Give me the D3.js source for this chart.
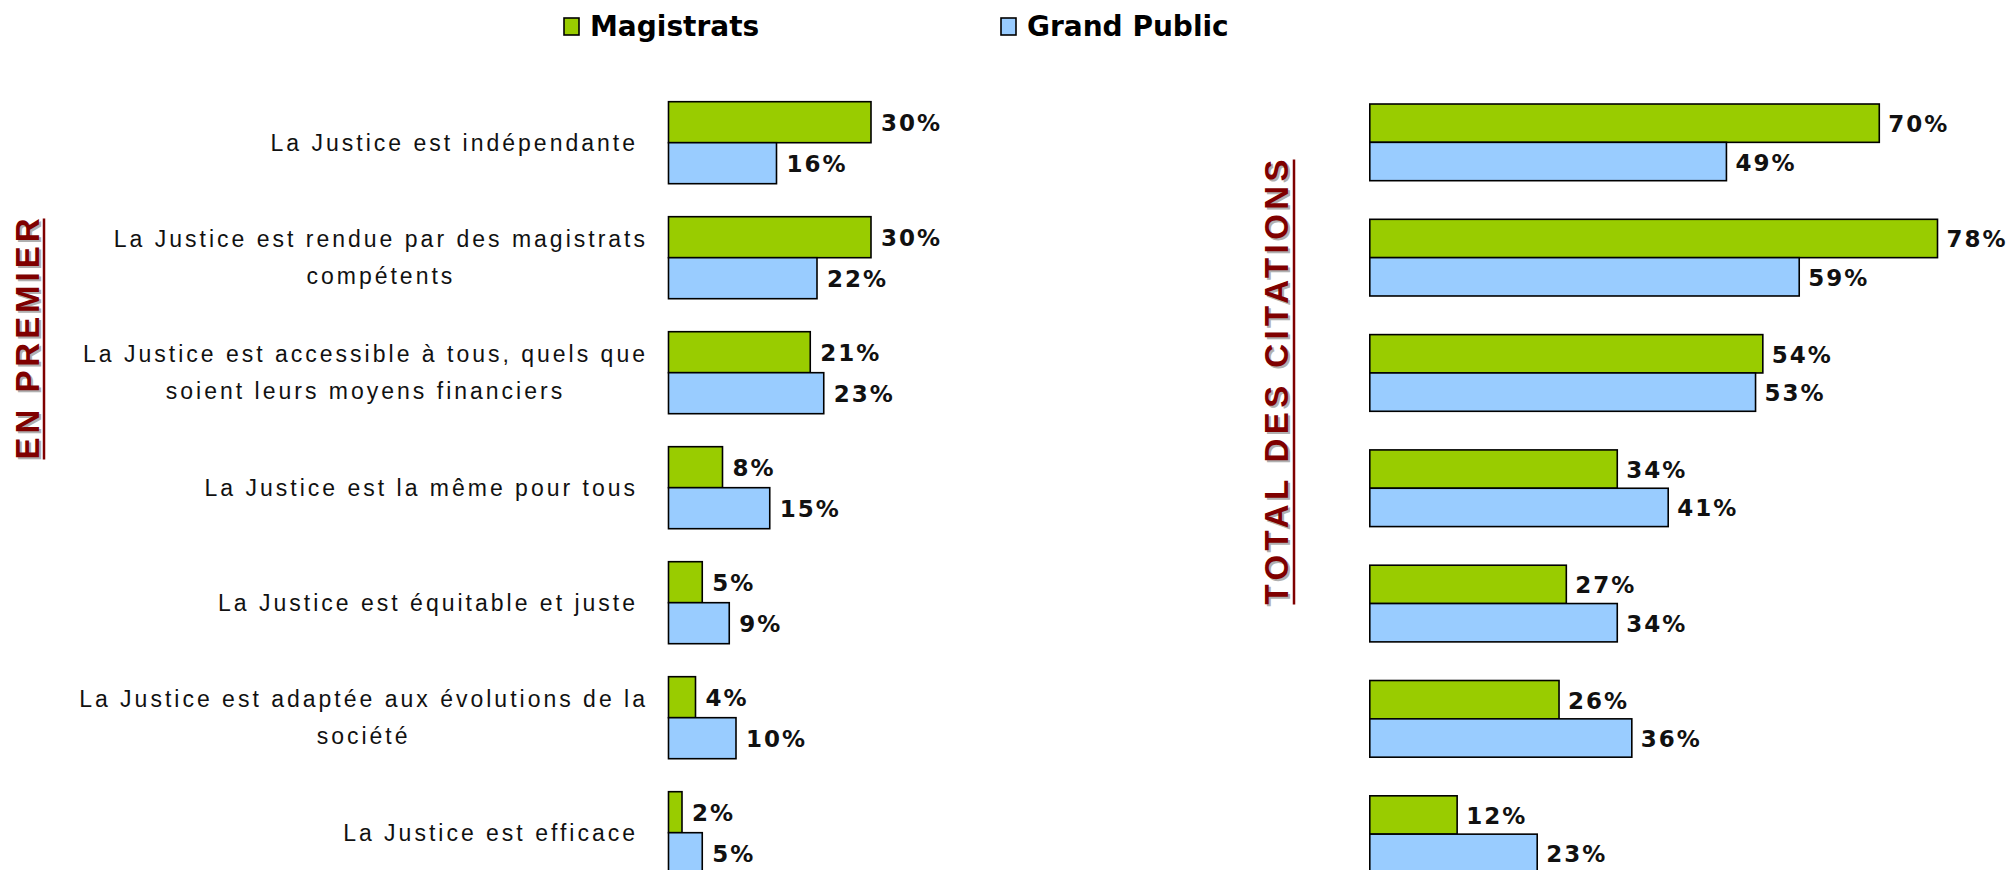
<!DOCTYPE html>
<html>
<head>
<meta charset="utf-8">
<script src="https://cdn.jsdelivr.net/npm/d3@7"></script>
<style>
  body { margin: 0; background: #fff; }
  svg { display: block; }
</style>
</head>
<body>
<div id="chart"></div>
<script>

var categories = [
	'La Justice est indépendante',
	'La Justice est rendue par des magistrats|compétents',
	'La Justice est accessible à tous, quels que|soient leurs moyens financiers',
	'La Justice est la même pour tous',
	'La Justice est équitable et juste',
	'La Justice est adaptée aux évolutions de la|société',
	'La Justice est efficace'
];
var series = ['Magistrats', 'Grand Public'];
var colors = ['#99cc00', '#99ccff'];

// "en premier"
var premierMagistrats = [30, 30, 21, 8, 5, 4, 2];
var premierPublic = [16, 22, 23, 15, 9, 10, 5];

// "total des citations"
var totalMagistrats = [70, 78, 54, 34, 27, 26, 12];
var totalPublic = [49, 59, 53, 41, 34, 36, 23];

var width = 2009,
	height = 870;

var svg = d3.select('#chart')
	.append('svg')
	.attr('width', width)
	.attr('height', height);

function panel(opts){
	var rows = categories.map(function(c, i){
		return { cat: c, vals: [opts.a[i], opts.b[i]] };
	});

	var x = d3.scaleLinear()
		.domain([0, opts.max])
		.range([opts.x0, opts.x1]);

	var y = d3.scaleBand()
		.domain(categories)
		.range(opts.yRange)
		.paddingInner(opts.pad)
		.paddingOuter(opts.pad / 2);

	var ySub = d3.scaleBand()
		.domain(series)
		.range([0, y.bandwidth()]);

	var g = svg.append('g');

	var grp = g.selectAll('g.grp')
		.data(rows)
		.enter()
		.append('g')
		.attr('class', 'grp')
		.attr('transform', function(d){ return 'translate(0,' + y(d.cat) + ')'; });

	var cells = grp.selectAll('g.cell')
		.data(function(d){
			return d.vals.map(function(v, j){ return { s: series[j], v: v, j: j }; });
		})
		.enter()
		.append('g')
		.attr('class', 'cell');

	cells.append('rect')
		.attr('x', x(0))
		.attr('y', function(d){ return ySub(d.s); })
		.attr('width', function(d){ return x(d.v) - x(0); })
		.attr('height', ySub.bandwidth())
		.attr('fill', function(d){ return colors[d.j]; })
		.attr('stroke', '#000')
		.attr('stroke-width', 1.6);

	cells.append('text')
		.attr('x', function(d){ return x(d.v) + opts.labelGap; })
		.attr('y', function(d){ return ySub(d.s) + ySub.bandwidth() / 2 + 1; })
		.attr('dominant-baseline', 'central')
		.style('font-family', '"DejaVu Sans", Verdana, sans-serif')
		.style('font-weight', 'bold')
		.style('font-size', '23px')
		.style('letter-spacing', '2px')
		.attr('fill', '#111')
		.text(function(d){ return d.v + '%'; });

	if (opts.catLabels) {
		grp.each(function(d){
			var lines = d.cat.split('|');
			var right = lines.length > 1 ? 648 : 638;
			var t = d3.select(this).append('g');
			var cy = y.bandwidth() / 2;
			var texts = t.selectAll('text')
				.data(lines)
				.enter()
				.append('text')
				.attr('y', function(l, k){ return cy + (k - (lines.length - 1) / 2) * 37; })
				.attr('dominant-baseline', 'central')
				.attr('text-anchor', 'middle')
				.style('font-family', '"Liberation Sans", Arial, sans-serif')
				.style('font-size', '23px')
				.style('letter-spacing', '3px')
				.attr('fill', '#111')
				.text(function(l){ return l; });
			var w = 0;
			texts.each(function(){ w = Math.max(w, this.getComputedTextLength()); });
			texts.attr('x', right - w / 2);
		});
	}
}

panel({
	a: premierMagistrats, b: premierPublic, max: 30,
	x0: 668.5, x1: 871,
	yRange: [85.2, 890.2], pad: 0.287,
	labelGap: 10, catLabels: true
});

panel({
	a: totalMagistrats, b: totalPublic, max: 78,
	x0: 1369.8, x1: 1937.5,
	yRange: [84.7, 891.8], pad: 0.335,
	labelGap: 9, catLabels: false
});

// vertical titles
function sideTitle(label, cx, cy, len, ulx){
	var g = svg.append('g')
		.attr('transform', 'translate(' + cx + ',' + cy + ') rotate(-90)');
	[['#b0b0b0', 2, 2], ['#7f0000', 0, 0]].forEach(function(c){
		g.append('text')
			.attr('x', -c[2])
			.attr('y', c[1])
			.attr('text-anchor', 'middle')
			.attr('dominant-baseline', 'central')
			.attr('textLength', len)
			.attr('lengthAdjust', 'spacing')
			.style('font-family', '"Liberation Sans", Arial, sans-serif')
			.style('font-weight', 'bold')
			.style('font-size', '33px')
			.attr('fill', c[0])
			.text(label);
	});
	g.append('line')
		.attr('x1', -len / 2).attr('x2', len / 2)
		.attr('y1', ulx - cx).attr('y2', ulx - cx)
		.attr('stroke', '#7f0000')
		.attr('stroke-width', 2.5);
}

sideTitle('EN PREMIER', 27, 339, 241, 44);
sideTitle('TOTAL DES CITATIONS', 1276, 382, 445, 1294);

// legend
var legendItems = [
	{ name: series[0], color: colors[0], x: 564 },
	{ name: series[1], color: colors[1], x: 1001 }
];
var leg = svg.selectAll('g.legend')
	.data(legendItems)
	.enter()
	.append('g')
	.attr('class', 'legend')
	.attr('transform', function(d){ return 'translate(' + d.x + ',0)'; });

leg.append('rect')
	.attr('x', 0).attr('y', 18)
	.attr('width', 15).attr('height', 17)
	.attr('fill', function(d){ return d.color; })
	.attr('stroke', '#000')
	.attr('stroke-width', 1.6);

leg.append('text')
	.attr('x', 26)
	.attr('y', 36)
	.style('font-family', '"DejaVu Sans", Verdana, sans-serif')
	.style('font-weight', 'bold')
	.style('font-size', '28px')
	.attr('fill', '#000')
	.text(function(d){ return d.name; });

</script>
</body>
</html>
